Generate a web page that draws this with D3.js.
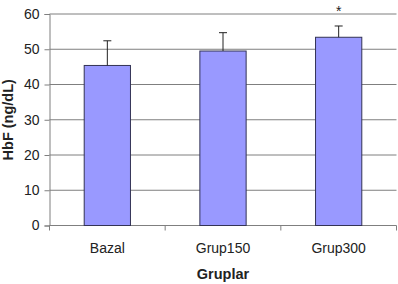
<!DOCTYPE html>
<html>
<head>
<meta charset="utf-8">
<script src="https://cdn.jsdelivr.net/npm/d3@7"></script>
<style>
  body { margin: 0; background: #fff; }
  text { font-family: "Liberation Sans", Arial, sans-serif; }
</style>
</head>
<body>
<div id="chart"></div>
<script>
const groups = ['Bazal', 'Grup150', 'Grup300']
const means = [45.4, 49.5, 53.4]
const errUp = [52.4, 54.7, 56.6]
const marks = ['', '', '*']
const yTicks = [0, 10, 20, 30, 40, 50, 60]

const width = 398
const height = 284
const padding = { top: 14, right: 1.5, bottom: 58.5, left: 49.5 }
const innerW = width - padding.left - padding.right
const innerH = height - padding.top - padding.bottom

const svg = d3.select('#chart').append('svg').attr('width', width).attr('height', height)
const g = svg.append('g').attr('transform', 'translate(' + padding.left + ',' + padding.top + ')')

const xScale = d3.scaleBand().domain(groups).range([0, innerW]).paddingInner(0.6).paddingOuter(0.3)
const yScale = d3.scaleLinear().domain([0, 60]).range([innerH, 0])

// grid lines
g.append('g')
  .selectAll('line')
  .data(yTicks.filter(d => d > 0))
  .enter()
  .append('line')
  .attr('x1', 0)
  .attr('x2', innerW)
  .attr('y1', d => yScale(d))
  .attr('y2', d => yScale(d))
  .attr('stroke', '#7f7f7f')
  .attr('stroke-width', 1)

// y axis
const yAxis = g.append('g')
  .call(d3.axisLeft(yScale).tickValues(yTicks).tickSize(5).tickPadding(5))
yAxis.select('.domain').attr('stroke', '#7f7f7f')
yAxis.selectAll('line').attr('stroke', '#7f7f7f')
yAxis.selectAll('text').attr('font-size', 14).attr('fill', '#222').attr('font-family', '"Liberation Sans", Arial, sans-serif')

// x axis with ticks at band boundaries
const xAxis = g.append('g').attr('transform', 'translate(0,' + innerH + ')')
xAxis.append('line').attr('x1', 0).attr('x2', innerW).attr('stroke', '#7f7f7f')
xAxis.selectAll('line.tk')
  .data(d3.range(groups.length + 1))
  .enter()
  .append('line')
  .attr('class', 'tk')
  .attr('x1', i => i * innerW / groups.length)
  .attr('x2', i => i * innerW / groups.length)
  .attr('y1', 0)
  .attr('y2', 5)
  .attr('stroke', '#7f7f7f')
xAxis.selectAll('text')
  .data(groups)
  .enter()
  .append('text')
  .attr('x', d => xScale(d) + xScale.bandwidth() / 2)
  .attr('y', 27)
  .attr('text-anchor', 'middle')
  .attr('font-size', 14)
  .attr('fill', '#222')
  .text(d => d)

// bars
g.append('g')
  .selectAll('rect')
  .data(groups)
  .enter()
  .append('rect')
  .attr('x', d => xScale(d))
  .attr('y', (d, i) => yScale(means[i]))
  .attr('width', xScale.bandwidth())
  .attr('height', (d, i) => innerH - yScale(means[i]))
  .attr('fill', '#9999ff')
  .attr('stroke', '#333355')
  .attr('stroke-width', 1)

// error bars (upper only)
const eg = g.append('g')
eg.selectAll('line.v')
  .data(groups)
  .enter()
  .append('line')
  .attr('class', 'v')
  .attr('x1', d => xScale(d) + xScale.bandwidth() / 2)
  .attr('x2', d => xScale(d) + xScale.bandwidth() / 2)
  .attr('y1', (d, i) => yScale(means[i]))
  .attr('y2', (d, i) => yScale(errUp[i]))
  .attr('stroke', '#222')
  .attr('stroke-width', 1)
eg.selectAll('line.cap')
  .data(groups)
  .enter()
  .append('line')
  .attr('class', 'cap')
  .attr('x1', d => xScale(d) + xScale.bandwidth() / 2 - 4)
  .attr('x2', d => xScale(d) + xScale.bandwidth() / 2 + 4)
  .attr('y1', (d, i) => yScale(errUp[i]))
  .attr('y2', (d, i) => yScale(errUp[i]))
  .attr('stroke', '#222')
  .attr('stroke-width', 1)

// significance marks
g.append('g')
  .selectAll('text')
  .data(groups)
  .enter()
  .append('text')
  .attr('x', d => xScale(d) + xScale.bandwidth() / 2)
  .attr('y', (d, i) => yScale(errUp[i]) - 10)
  .attr('text-anchor', 'middle')
  .attr('font-size', 14)
  .attr('fill', '#222')
  .text((d, i) => marks[i])

// axis titles
svg.append('text')
  .attr('x', padding.left + innerW / 2)
  .attr('y', 279)
  .attr('text-anchor', 'middle')
  .attr('font-size', 14.5)
  .attr('font-weight', 'bold')
  .attr('fill', '#222')
  .text('Gruplar')

svg.append('text')
  .attr('transform', 'translate(13,' + (padding.top + innerH / 2) + ') rotate(-90)')
  .attr('text-anchor', 'middle')
  .attr('font-size', 14.5)
  .attr('font-weight', 'bold')
  .attr('fill', '#222')
  .text('HbF (ng/dL)')
</script>
</body>
</html>
